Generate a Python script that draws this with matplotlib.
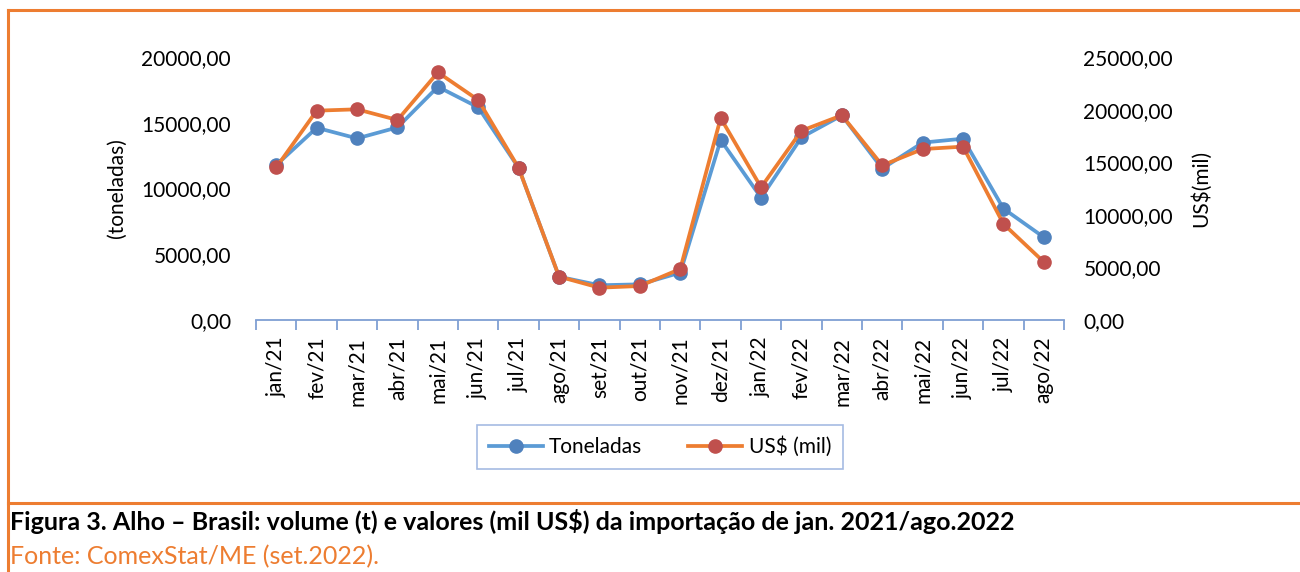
import numpy as np
import matplotlib.pyplot as plt
from matplotlib.lines import Line2D
from matplotlib.ticker import FuncFormatter, MultipleLocator

plt.rcParams["font.family"] = ["Lato", "DejaVu Sans"]

months = ["jan/21", "fev/21", "mar/21", "abr/21", "mai/21", "jun/21", "jul/21",
          "ago/21", "set/21", "out/21", "nov/21", "dez/21", "jan/22", "fev/22",
          "mar/22", "abr/22", "mai/22", "jun/22", "jul/22", "ago/22"]

toneladas = [11790, 14620, 13810, 14650, 17740, 16170, 11560, 3290, 2640, 2710,
             3600, 13690, 9300, 13890, 15560, 11510, 13490, 13790, 8470, 6290]

usd_mil = [14510, 19900, 20030, 19010, 23540, 20910, 14450, 4120, 3070, 3230,
           4850, 19200, 12610, 17990, 19460, 14700, 16250, 16480, 9130, 5510]

caption = "Figura 3. Alho \u2013 Brasil: volume (t) e valores (mil US$) da importação de jan. 2021/ago.2022"
source = "Fonte: ComexStat/ME (set.2022)."

BLUE_LINE = "#5B9BD5"
BLUE_MARK = "#4F81BD"
ORANGE_LINE = "#ED7D31"
RED_MARK = "#C0504D"
AXIS_COLOR = "#7F9FD3"

fig = plt.figure(figsize=(13, 5.72), dpi=100)
ax = fig.add_axes([0.197, 0.4406, 0.6215, 0.4597])
ax2 = ax.twinx()

x = np.arange(len(months))

ax.plot(x, toneladas, color=BLUE_LINE, lw=2.7, marker="o", ms=9.5,
        mfc=BLUE_MARK, mec=BLUE_MARK, label="Toneladas", zorder=3)
ax2.plot(x, usd_mil, color=ORANGE_LINE, lw=2.7, marker="o", ms=9.5,
         mfc=RED_MARK, mec=RED_MARK, label="US$ (mil)", zorder=3)

fmt = FuncFormatter(lambda v, p: f"{v:.2f}".replace(".", ","))

ax.set_ylim(0, 20000)
ax.yaxis.set_major_locator(MultipleLocator(5000))
ax.yaxis.set_major_formatter(fmt)
ax2.set_ylim(0, 25000)
ax2.yaxis.set_major_locator(MultipleLocator(5000))
ax2.yaxis.set_major_formatter(fmt)

ax.set_xlim(-0.5, len(months) - 0.5)
ax.set_xticks(x)
ax.set_xticklabels(months, rotation=90, fontsize=15)
ax.set_xticks(np.arange(-0.5, len(months)), minor=True)
ax.tick_params(axis="x", which="major", length=0, pad=12)
ax.tick_params(axis="x", which="minor", length=7, width=1.3, color=AXIS_COLOR, direction="out")

ax.tick_params(axis="y", length=0, pad=18, labelsize=15)
ax2.tick_params(axis="y", length=0, pad=14, labelsize=15)

for a in (ax, ax2):
    for s in ("top", "left", "right"):
        a.spines[s].set_visible(False)
    a.spines["bottom"].set_color(AXIS_COLOR)
    a.spines["bottom"].set_linewidth(1.3)
ax2.spines["bottom"].set_visible(False)

ax.set_ylabel("(toneladas)", fontsize=15)
ax.yaxis.set_label_coords(-0.160, 0.5)
ax2.set_ylabel("US$(mil)", fontsize=15, rotation=90)
ax2.yaxis.set_label_coords(1.156, 0.5)

handles = [
    Line2D([], [], color=BLUE_LINE, lw=2.7, marker="o", ms=9.5, mfc=BLUE_MARK, mec=BLUE_MARK),
    Line2D([], [], color=ORANGE_LINE, lw=2.7, marker="o", ms=9.5, mfc=RED_MARK, mec=RED_MARK),
]
leg = fig.legend(handles, ["Toneladas", "US$ (mil)"], loc="center",
                 bbox_to_anchor=(660 / 1300, 1 - 447 / 572), ncol=2, fontsize=15,
                 frameon=True, fancybox=False, handlelength=2.6, columnspacing=2.2,
                 borderpad=0.55, handletextpad=0.3)
leg.get_frame().set_edgecolor("#8FAADC")
leg.get_frame().set_linewidth(1.2)

# orange frame around the chart
H = 572.0
W = 1300.0
fig.add_artist(Line2D([8 / W, 1.0], [1 - 10 / H, 1 - 10 / H], color=ORANGE_LINE, lw=2.2))
fig.add_artist(Line2D([8 / W, 8 / W], [0.0, 1 - 10 / H], color=ORANGE_LINE, lw=2.2))
fig.add_artist(Line2D([8 / W, 1.0], [1 - 503 / H, 1 - 503 / H], color=ORANGE_LINE, lw=2.2))

fig.text(10 / W, 1 - 522 / H, caption, fontsize=18, fontweight="bold", va="center", ha="left")
fig.text(10 / W, 1 - 557 / H, source, fontsize=18, color=ORANGE_LINE, va="center", ha="left")

fig.savefig("out.png", dpi=100)
